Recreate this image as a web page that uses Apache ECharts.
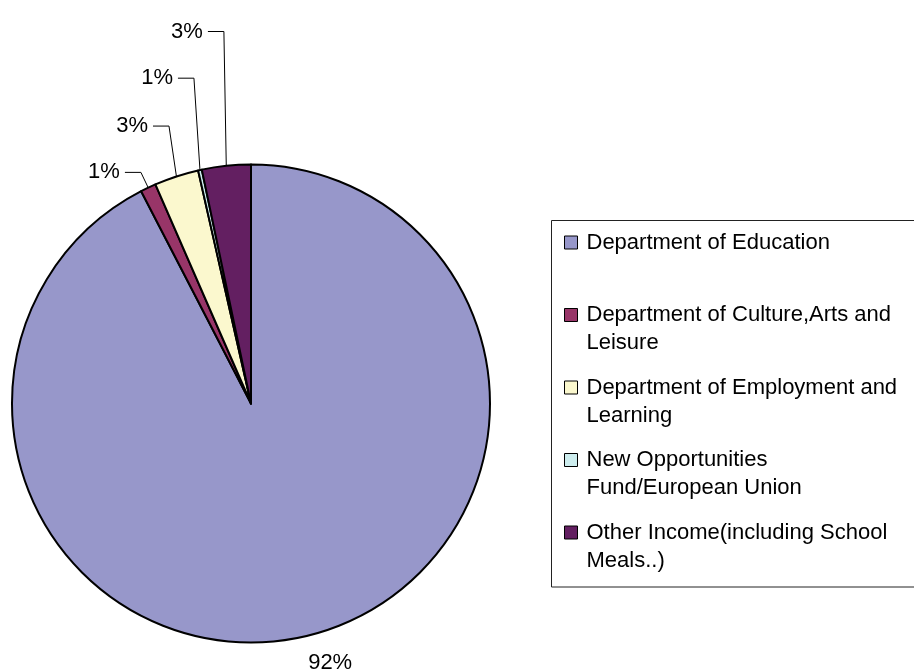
<!DOCTYPE html>
<html>
<head>
<meta charset="utf-8">
<script src="https://cdn.jsdelivr.net/npm/echarts@6/dist/echarts.min.js"></script>
<style>
  html, body { margin: 0; padding: 0; background: #fff; }
  #chart { width: 914px; height: 670px; }
</style>
</head>
<body>
<div id="chart"></div>
<script>
// ---- data ----
const categories = [
  'Department of Education',
  'Department of Culture,Arts and Leisure',
  'Department of Employment and Learning',
  'New Opportunities Fund/European Union',
  'Other Income(including School Meals..)'
];
const shares = [92.4, 1.05, 3.0, 0.25, 3.3];
const percentLabels = ['92%', '1%', '3%', '1%', '3%'];
const legendLines = [
  ['Department of Education'],
  ['Department of Culture,Arts and', 'Leisure'],
  ['Department of Employment and', 'Learning'],
  ['New Opportunities', 'Fund/European Union'],
  ['Other Income(including School', 'Meals..)']
];

// ---- styles ----
const FONT = "'Liberation Sans', Arial, sans-serif";
const sliceColors = ['#9797CA', '#983568', '#FBF8CE', '#CDEDEE', '#631F61'];
const leaderLength = [28, 17, 53, 94, 135];
const leaderSlope = [0, 1.0, 0.45, 0.3, 0.17];

const chart = echarts.init(document.getElementById('chart'), null, { renderer: 'canvas' });

const data = categories.map((name, i) => {
  const item = {
    name: name,
    value: shares[i],
    itemStyle: { color: sliceColors[i] },
    labelLine: { length: leaderLength[i], length2: 16 }
  };
  if (i === 0) {
    item.labelLine = { show: false, length: leaderLength[i], length2: -6 };
    item.label = { distanceToLabelLine: 0 };
  }
  return item;
});

const option = {
  animation: false,
  backgroundColor: '#fff',
  graphic: [{
    type: 'rect',
    silent: true,
    z: -1,
    shape: { x: 551.5, y: 220.5, width: 420, height: 366.5 },
    style: { fill: 'transparent', stroke: '#222', lineWidth: 1 }
  }],
  legend: {
    orient: 'vertical',
    left: 564,
    top: 200.5,
    padding: 0,
    itemGap: -11.5,
    itemWidth: 13,
    itemHeight: 13,
    icon: 'rect',
    selectedMode: false,
    itemStyle: { borderColor: '#000', borderWidth: 1 },
    textStyle: {
      fontFamily: FONT,
      fontSize: 22,
      lineHeight: 28,
      color: '#000',
      padding: [0, 0, 0, 4]
    },
    formatter: function (name) {
      const lines = legendLines[categories.indexOf(name)].slice();
      while (lines.length < 2) lines.push('\u00a0');
      return ['\u00a0'].concat(lines).join('\n');
    },
    data: categories
  },
  series: [{
    type: 'pie',
    center: [251, 403.5],
    radius: 239,
    startAngle: 90,
    clockwise: true,
    avoidLabelOverlap: false,
    silent: true,
    emphasis: { disabled: true, scale: false },
    itemStyle: { borderColor: '#000', borderWidth: 2 },
    label: {
      show: true,
      position: 'outside',
      fontFamily: FONT,
      fontSize: 22,
      color: '#000',
      distanceToLabelLine: 5,
      formatter: function (p) { return percentLabels[p.dataIndex]; }
    },
    labelLine: {
      show: true,
      lineStyle: { color: '#000', width: 1 }
    },
    labelLayout: function (params) {
      const pts = params.labelLinePoints;
      if (params.dataIndex === 0 || !pts || pts.length < 3) return {};
      const p0 = pts[0], p1 = pts[1], p2 = pts[2];
      const nx1 = p0[0] + (p1[0] - p0[0]) * leaderSlope[params.dataIndex];
      const shift = nx1 - p1[0];
      const r = params.labelRect;
      return {
        x: r.x + r.width + shift,
        y: r.y + r.height / 2,
        align: 'right',
        verticalAlign: 'middle',
        labelLinePoints: [[p0[0], p0[1]], [nx1, p1[1]], [p2[0] + shift, p2[1]]]
      };
    },
    data: data
  }]
};

chart.setOption(option);
</script>
</body>
</html>
